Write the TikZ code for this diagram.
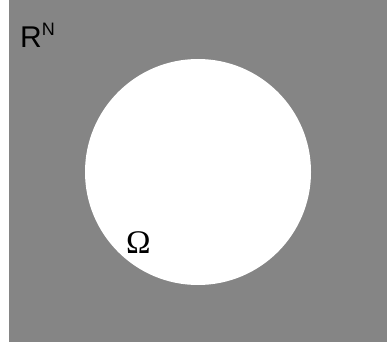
\documentclass[tikz,border=0pt]{standalone}
\usepackage{fontspec}
\setmainfont{Liberation Serif}
\setsansfont{Liberation Sans}
\definecolor{bg}{HTML}{858585}
\tikzset{lbl/.style={inner sep=0pt, anchor=base west}}
\begin{document}
\begin{tikzpicture}[x=1pt,y=-1pt]
\useasboundingbox (0,0) rectangle (387,342);
\fill[white] (0,0) rectangle (387,342);
\fill[bg] (9,0) rectangle (387,342);
\fill[white] (198,172) circle (113);
\node[lbl] (rn) at (20,48) {\sffamily\fontsize{30}{30}\selectfont R\raisebox{12pt}{\fontsize{18}{18}\selectfont N}};
\node[lbl] (om) at (126,253) {\fontsize{33}{33}\selectfont Ω};
\end{tikzpicture}
\end{document}
